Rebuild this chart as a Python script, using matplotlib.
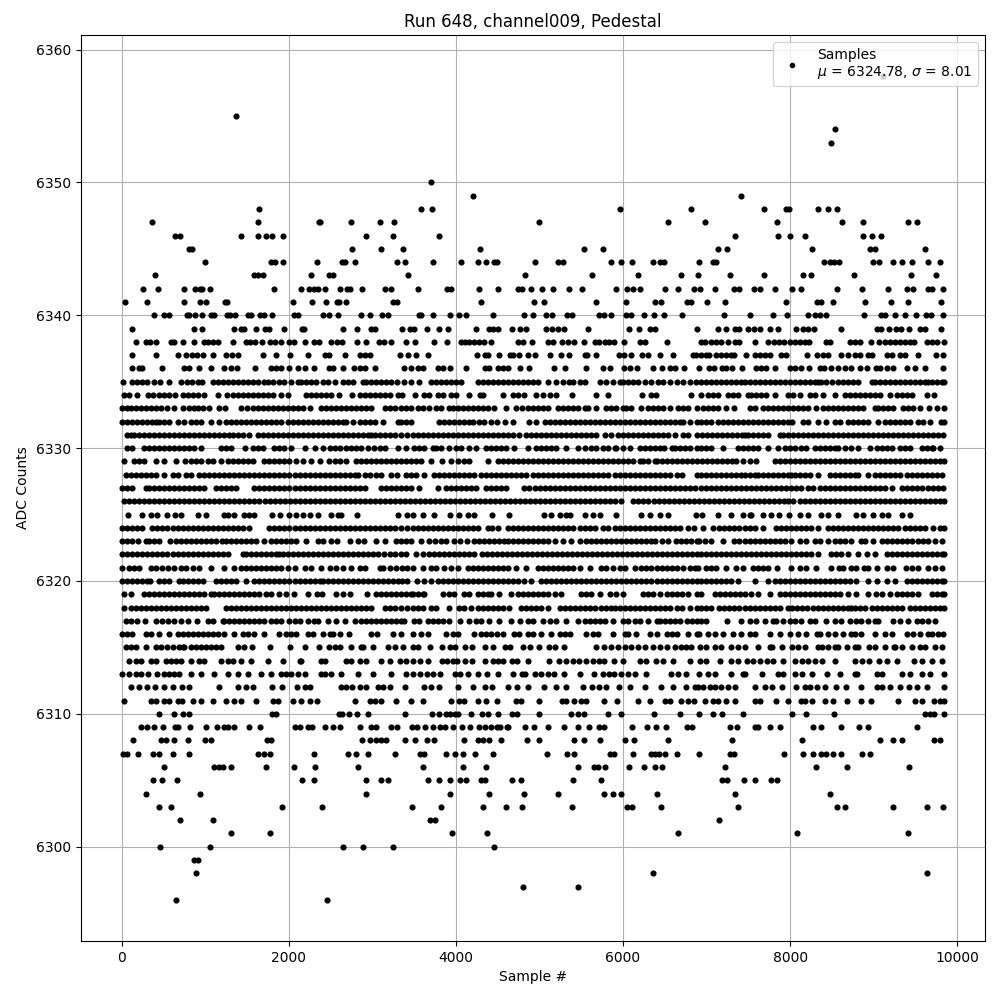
import numpy as np
import matplotlib
matplotlib.use("Agg")
import matplotlib.pyplot as plt

# Sample numbers, one list per ADC level
r6358 = [9114]
r6355 = [1372]
r6354 = [8538]
r6353 = [8490]
r6350 = [3700]
r6349 = [4204, 7410]
r6348 = [1648, 3580, 3712, 5970, 6810, 7686, 7950, 7986, 8334, 8454, 8562]
r6347 = [364, 1636, 2368, 2380, 2740, 3088, 3256, 5000, 6534, 6978, 7842, 8622, 8874, 9414, 9522]
r6346 = [640, 700, 1432, 1636, 1732, 1804, 1936, 2920, 3244, 3796, 7338, 7854, 7998, 8178, 8874, 8982, 9090]
r6345 = [808, 844, 2752, 3100, 3364, 4288, 5538, 5766, 7134, 7242, 8262, 8958, 9018, 9618]
r6344 = [1000, 1792, 1840, 1936, 2344, 2632, 2676, 2788, 3292, 3388, 3724, 4060, 4264, 4360, 4456, 4492, 4948,
         5226, 5286, 5862, 5982, 6102, 6354, 6438, 6486, 6906, 7074, 7110, 8406, 8478, 8526, 8586, 8994, 9066,
         9234, 9342, 9462, 9654, 9798]
r6343 = [400, 1588, 1636, 1696, 2272, 2476, 2524, 3424, 4828, 5634, 6174, 6690, 6894, 7278, 7686, 8154, 8250,
         8766, 9450, 9750]
r6342 = [256, 436, 748, 880, 940, 964, 1060, 1828, 2152, 2248, 2308, 2356, 2428, 2608, 2692, 2728, 2872, 3148,
         3220, 3544, 3892, 3940, 4276, 4504, 4748, 4796, 4900, 5034, 5166, 5358, 5514, 5922, 6042, 6114, 6198,
         6498, 6654, 6846, 6918, 7098, 7326, 7386, 7566, 7638, 7818, 8022, 8130, 8562, 8862, 9174, 9402, 9474,
         9654, 9702, 9834]
r6341 = [40, 304, 748, 940, 1012, 1240, 1264, 2056, 2284, 2440, 2572, 2596, 2680, 3244, 3292, 4300, 4936, 5058,
         5682, 6030, 6378, 6450, 6762, 6810, 7002, 7218, 7950, 8322, 8370, 8514, 8898, 9210, 9414, 9810]
r6340 = [388, 508, 568, 784, 808, 880, 964, 1072, 1108, 1264, 1300, 1360, 1516, 1552, 1660, 1708, 1804, 2068,
         2116, 2404, 2476, 2584, 2860, 2968, 3112, 3184, 3556, 3580, 3724, 3928, 4036, 4120, 4444, 4816, 4924,
         5082, 5154, 5334, 5394, 5718, 5778, 5862, 6030, 6098, 6246, 6366, 6486, 6702, 7206, 7518, 7794, 7962,
         8214, 8298, 8358, 8430, 8886, 9090, 9138, 9258, 9378, 9510, 9630, 9690, 9834]
r6339 = [124, 868, 964, 1348, 1432, 1468, 1612, 1720, 1768, 1948, 2164, 2188, 2644, 2812, 2980, 3028, 3352, 3448,
         3496, 3652, 3796, 3904, 4240, 4396, 4444, 4508, 4672, 4768, 4840, 5082, 5154, 5226, 5298, 5586, 6066,
         6186, 6318, 6378, 6882, 7134, 7230, 7338, 7386, 7494, 7566, 7638, 7758, 7854, 8070, 8154, 8214, 8286,
         8610, 9042, 9090, 9178, 9270, 9330, 9426, 9558, 9618, 9810]
r6338 = [172, 292, 340, 412, 592, 628, 736, 868, 988, 1036, 1096, 1156, 1336, 1492, 1540, 1600, 1684, 1780, 1840,
         1912, 2008, 2068, 2200, 2308, 2368, 2500, 2572, 2632, 2812, 2920, 3076, 3136, 3220, 3400, 3508, 3740,
         3892, 4060, 4108, 4156, 4216, 4276, 4336, 4420, 4748, 4808, 4912, 5104, 5166, 5274, 5346, 5418,
         5538, 5670, 5718, 5790, 5838, 5898, 6006, 6198, 6258, 6522, 6930, 6978, 7058, 7118, 7178, 7258, 7338,
         7386, 7578, 7734, 7806, 7866, 7926, 7998, 8058, 8118, 8178, 8226, 8430, 8478, 8718, 8778, 8838, 8970,
         9066, 9138, 9198, 9258, 9318, 9378, 9438, 9486, 9642, 9702, 9762, 9840]
r6337 = [125, 411, 671, 773, 845, 901, 977, 1097, 1253, 1325, 1397, 1697, 1845, 2013, 2229, 2429, 2477, 2669, 2849,
         2909, 2969, 3333, 3429, 3525, 3669, 4257, 4353, 4389, 4521, 4653, 4689, 4761, 4869, 4941, 5121,
         5253, 5349, 5541, 5565, 5673, 5949, 6009, 6093, 6225, 6297, 6441, 6593, 6837, 6874, 6934, 6994, 7034,
         7114, 7174, 7234, 7294, 7334, 7466, 7574, 7634, 7694, 7754, 7894, 7954, 8202, 8326, 8394, 8454, 8606,
         8694, 8774, 8834, 8934, 8974, 9154, 9214, 9314, 9374, 9534, 9746, 9834]
r6336 = [125, 209, 245, 485, 749, 809, 929, 1073, 1229, 1313, 1385, 1601, 1789, 1849, 1909, 2009, 2105, 2189, 2297,
         2477, 2525, 2645, 2777, 2849, 2909, 3029, 3381, 3465, 3549, 3609, 3789, 3849, 3933, 4125, 4353,
         4401, 4509, 4569, 4629, 4773, 4881, 5169, 5301, 5553, 5757, 5841, 6009, 6081, 6165, 6357, 6465, 6561,
         6621, 6729, 6914, 7034, 7094, 7190, 7238, 7310, 7426, 7586, 7646, 7706, 7814, 7994, 8054, 8126, 8222,
         8354, 8402, 8494, 8574, 8654, 8734, 8834, 8914, 9026, 9074, 9154, 9234, 9394, 9494, 9614, 9830]
r6335 = [17, 129, 189, 249, 309, 389, 461, 569, 713, 781, 837, 909, 957, 1089, 1149, 1209, 1269, 1329, 1389, 1449,
         1509, 1569, 1629, 1709, 1749, 1809, 1889, 1949, 2029, 2109, 2141, 2209, 2269, 2329, 2409, 2469,
         2549, 2649, 2709, 2769, 2889, 2921, 2989, 3049, 3109, 3169, 3229, 3301, 3381, 3461, 3561, 3701,
         3761, 3821, 3881, 3941, 4001, 4061, 4261, 4321, 4381, 4441, 4501, 4561, 4621, 4681, 4741, 4801, 4861,
         4921, 4981, 5101, 5201, 5281, 5351, 5401, 5481, 5541, 5721, 5801, 5881, 5961, 6001, 6061, 6121, 6181,
         6261, 6341, 6421, 6481, 6561, 6641, 6721, 6801, 6874, 6934, 6994, 7054, 7114, 7174, 7234, 7294,
         7354, 7414, 7454, 7514, 7574, 7634, 7694, 7754, 7814, 7874, 7934, 7994, 8054, 8114, 8174, 8234, 8294,
         8334, 8374, 8434, 8504, 8574, 8634, 8694, 8754, 8814, 8974, 9014, 9074, 9134, 9194, 9254, 9314, 9374,
         9434, 9494, 9554, 9614, 9654, 9694, 9754, 9814, 9840]
r6334 = [30, 90, 180, 310, 370, 450, 510, 570, 640, 730, 790, 850, 910, 990, 1149, 1261, 1330, 1390, 1450, 1510,
         1570, 1630, 1690, 1750, 1810, 1910, 1989, 2210, 2270, 2330, 2390, 2450, 2510, 2597, 2757, 2850, 2910, 2970,
         3030, 3090, 3150, 3210, 3310, 3353, 3513, 3621, 3681, 3781, 3841, 3941, 4005, 4161, 4285, 4320, 4569, 4681,
         4741, 4821, 4961, 5041, 5121, 5193, 5393, 5673, 5821, 6225, 6340, 6390, 6814, 6934, 7014, 7074, 7134, 7254,
         7314, 7374, 7494, 7534, 7594, 7654, 7714, 7814, 7974, 8034, 8114, 8234, 8294, 8394, 8534, 8654, 8714,
         8774, 8834, 8894, 8954, 9014, 9074, 9194, 9274, 9334, 9394, 9454, 9634, 9722]
r6333 = [9, 61, 117, 169, 229, 289, 349, 409, 469, 549, 629, 729, 809, 869, 909, 969, 1049, 1169, 1237, 1429, 1499,
         1569, 1629, 1689, 1749, 1809, 1869, 1929, 1989, 2049, 2109, 2169, 2249, 2389, 2449, 2509, 2569, 2629,
         2689, 2749, 2809, 2869, 2929, 2989, 3149, 3209, 3269, 3349, 3401, 3461, 3541, 3601, 3681, 3761, 3821,
         3921, 3961, 4021, 4081, 4141, 4201, 4261, 4321, 4381, 4461, 4605, 4721, 4791, 4861, 4921, 4981, 5041,
         5101, 5221, 5281, 5341, 5401, 5461, 5541, 5581, 5681, 5801, 5861, 5921, 6001, 6041, 6101, 6221, 6301,
         6361, 6421, 6481, 6561, 6661, 6721, 6781, 6881, 6954, 7014, 7074, 7134, 7234, 7334, 7514, 7574, 7674,
         7734, 7794, 7854, 7914, 7974, 8034, 8094, 8154, 8214, 8314, 8394, 8454, 8514, 8574, 8634, 8694, 8754,
         8814, 8874, 9014, 9054, 9114, 9174, 9234, 9354, 9414, 9474, 9554, 9662, 9758, 9840]
r6332 = [0, 60, 120, 180, 240, 300, 360, 409, 449, 509, 569, 669, 749, 829, 889, 949, 1069, 1169, 1249, 1309, 1369,
         1429, 1489, 1549, 1609, 1669, 1729, 1789, 1849, 1909, 1989, 2049, 2109, 2169, 2229, 2289, 2349, 2409,
         2469, 2529, 2589, 2649, 2689, 2769, 2849, 2909, 2969, 3029, 3129, 3309, 3349, 3401, 3461, 3801, 3861,
         3921, 3981, 4041, 4101, 4161, 4201, 4273, 4333, 4421, 4497, 4593, 4689, 4881, 4961, 5061, 5121, 5181,
         5241, 5301, 5361, 5421, 5481, 5541, 5601, 5661, 5721, 5781, 5841, 5901, 5961, 6021, 6081, 6141, 6201,
         6261, 6321, 6381, 6441, 6501, 6561, 6621, 6681, 6721, 6801, 6881, 6934, 6994, 7054, 7134, 7194, 7254,
         7314, 7374, 7434, 7494, 7554, 7614, 7674, 7734, 7794, 7854, 7914, 7974, 8022, 8154, 8214, 8334, 8434,
         8534, 8594, 8694, 8754, 8814, 8874, 8934, 9054, 9134, 9194, 9254, 9314, 9374, 9434, 9534, 9594, 9674,
         9806, 9840]
r6331 = [69, 109, 149, 209, 269, 329, 389, 449, 509, 569, 629, 689, 749, 809, 869, 929, 989, 1049, 1109, 1169, 1229,
         1289, 1329, 1389, 1449, 1529, 1629, 1689, 1749, 1809, 1869, 1929, 1989, 2049, 2109, 2169, 2229, 2289,
         2349, 2409, 2469, 2529, 2589, 2649, 2709, 2769, 2829, 2889, 2949, 2989, 3029, 3089, 3149, 3209, 3269,
         3349, 3421, 3481, 3541, 3601, 3661, 3721, 3781, 3841, 3901, 3961, 4021, 4081, 4141, 4201, 4261, 4321,
         4381, 4441, 4501, 4561, 4621, 4681, 4761, 4841, 4901, 4961, 5021, 5081, 5141, 5201, 5261, 5321, 5381,
         5441, 5501, 5561, 5621, 5681, 5781, 5861, 5941, 6001, 6061, 6121, 6181, 6241, 6301, 6361, 6421, 6481,
         6541, 6621, 6721, 6781, 6881, 6941, 7001, 7061, 7121, 7181, 7241, 7301, 7361, 7421, 7454, 7494, 7554,
         7614, 7674, 7734, 7874, 7914, 7974, 8034, 8094, 8154, 8214, 8274, 8334, 8394, 8454, 8514, 8574, 8634,
         8694, 8754, 8814, 8874, 8934, 8994, 9054, 9114, 9174, 9234, 9294, 9354, 9414, 9474, 9534, 9594, 9654,
         9714, 9774, 9834]
r6330 = [69, 129, 269, 329, 389, 449, 509, 569, 629, 689, 749, 809, 869, 949, 1189, 1249, 1309, 1479, 1569, 1629,
         1689, 1829, 1889, 1949, 2029, 2189, 2309, 2409, 2489, 2549, 2609, 2689, 2749, 2809, 2869, 2949, 3019, 3089,
         3149, 3309, 3401, 3501, 3561, 3621, 3721, 3761, 3821, 3921, 4001, 4061, 4161, 4241, 4361, 4421, 4481,
         4541, 4601, 4701, 4861, 4961, 5021, 5081, 5141, 5201, 5321, 5461, 5541, 5621, 5681, 5761, 5821, 5901,
         5921, 6001, 6081, 6201, 6261, 6321, 6381, 6441, 6489, 6581, 6621, 6681, 6741, 6801, 6881, 6934, 6994,
         7054, 7194, 7374, 7434, 7494, 7554, 7614, 7734, 7854, 7934, 7994, 8054, 8134, 8194, 8294, 8354, 8414,
         8474, 8534, 8574, 8654, 8734, 8814, 8954, 9034, 9094, 9154, 9214, 9314, 9374, 9434, 9574, 9634, 9694,
         9714, 9794]
r6329 = [29, 149, 209, 269, 409, 509, 649, 759, 829, 889, 949, 1029, 1089, 1189, 1269, 1329, 1389, 1449, 1509, 1569,
         1709, 1769, 1829, 1889, 1949, 2009, 2089, 2169, 2269, 2369, 2479, 2549, 2609, 2689, 2809, 2869, 2929, 2989,
         3049, 3109, 3169, 3229, 3289, 3349, 3401, 3461, 3521, 3581, 3701, 3831, 3941, 4031, 4101, 4161, 4381,
         4501, 4561, 4621, 4681, 4741, 4801, 4861, 4921, 4981, 5041, 5101, 5161, 5221, 5281, 5341, 5401, 5461,
         5521, 5581, 5641, 5701, 5761, 5821, 5881, 5941, 6001, 6061, 6121, 6201, 6241, 6301, 6381, 6401, 6461,
         6521, 6581, 6641, 6701, 6761, 6821, 6881, 6941, 7001, 7061, 7121, 7181, 7241, 7301, 7354, 7434, 7514,
         7594, 7814, 7874, 7934, 7994, 8054, 8114, 8174, 8234, 8294, 8354, 8414, 8474, 8534, 8594, 8654, 8714,
         8774, 8834, 8894, 8954, 9014, 9074, 9134, 9194, 9254, 9314, 9374, 9434, 9494, 9554, 9614, 9674, 9734,
         9794, 9840]
r6328 = [49, 109, 169, 229, 289, 349, 409, 509, 609, 669, 769, 829, 929, 989, 1049, 1109, 1169, 1229, 1289, 1349, 1409,
         1469, 1529, 1589, 1649, 1709, 1769, 1829, 1889, 1949, 2009, 2069, 2129, 2189, 2249, 2309, 2369, 2429, 2489,
         2549, 2609, 2669, 2729, 2789, 2829, 2909, 2969, 3049, 3109, 3229, 3301, 3401, 3461, 3521, 3621, 3741,
         3801, 3861, 3921, 3981, 4041, 4101, 4161, 4221, 4301, 4361, 4421, 4481, 4541, 4601, 4661, 4721, 4781,
         4841, 4921, 4981, 5041, 5101, 5161, 5221, 5281, 5341, 5401, 5461, 5521, 5581, 5641, 5701, 5761, 5821,
         5901, 5961, 6021, 6081, 6141, 6201, 6261, 6321, 6381, 6441, 6501, 6561, 6641, 6701, 6881, 6934, 6994,
         7054, 7114, 7174, 7234, 7294, 7354, 7414, 7454, 7514, 7574, 7614, 7674, 7734, 7794, 7854, 7914, 7974, 8014,
         8054, 8114, 8174, 8234, 8334, 8474, 8534, 8594, 8654, 8714, 8774, 8814, 8934, 9014, 9074, 9134, 9194,
         9254, 9314, 9394, 9454, 9514, 9574, 9634, 9694, 9754, 9814]
r6327 = [9, 69, 129, 289, 329, 389, 449, 509, 569, 629, 689, 749, 809, 869, 929, 989, 1129, 1189, 1249, 1309, 1369, 1589,
         1649, 1709, 1769, 1829, 1889, 1949, 2009, 2069, 2129, 2189, 2249, 2309, 2369, 2429, 2489, 2549, 2609, 2669,
         2729, 2789, 2849, 2909, 3109, 3169, 3229, 3289, 3349, 3401, 3461, 3561, 3781, 3881, 3941, 4001, 4061, 4121,
         4181, 4241, 4361, 4421, 4481, 4541, 4601, 4821, 4881, 4941, 5001, 5061, 5121, 5181, 5241, 5301, 5361, 5421,
         5481, 5541, 5601, 5661, 5721, 5781, 5841, 5901, 5961, 6021, 6081, 6141, 6201, 6261, 6321, 6381, 6441, 6501,
         6561, 6621, 6681, 6741, 6801, 6861, 6934, 6994, 7054, 7114, 7174, 7234, 7294, 7354, 7414, 7474, 7534, 7594,
         7654, 7714, 7774, 7834, 7894, 7954, 8014, 8074, 8134, 8214, 8274, 8354, 8414, 8474, 8534, 8594, 8654, 8714,
         8774, 8834, 8894, 8954, 9014, 9074, 9134, 9214, 9344, 9404, 9464, 9524, 9584, 9644, 9704, 9764, 9834]
r6326 = [30, 90, 150, 210, 270, 330, 390, 450, 510, 570, 630, 690, 750, 810, 870, 930, 990, 1050, 1110, 1170, 1230,
         1290, 1350, 1410, 1470, 1530, 1590, 1650, 1710, 1770, 1830, 1890, 1950, 2010, 2070, 2130, 2190, 2250, 2310,
         2370, 2430, 2490, 2550, 2610, 2670, 2730, 2790, 2850, 2910, 2970, 3030, 3090, 3150, 3210, 3270, 3330, 3390,
         3450, 3510, 3570, 3630, 3690, 3750, 3810, 3870, 3930, 3990, 4050, 4110, 4170, 4230, 4290, 4350, 4410, 4470,
         4530, 4590, 4650, 4710, 4770, 4830, 4890, 4950, 5010, 5070, 5130, 5190, 5250, 5310, 5370, 5430, 5490, 5550,
         5610, 5670, 5730, 5790, 5850, 5910, 5980, 6125, 6185, 6245, 6305, 6365, 6425, 6485, 6545, 6605, 6665, 6725,
         6785, 6845, 6905, 6965, 7025, 7085, 7145, 7205, 7265, 7325, 7385, 7445, 7505, 7565, 7625, 7685, 7745, 7805,
         7865, 7925, 7975, 8034, 8115, 8175, 8235, 8295, 8355, 8415, 8475, 8535, 8595, 8655, 8715, 8775, 8835, 8895,
         8955, 9015, 9075, 9135, 9195, 9255, 9315, 9375, 9435, 9495, 9555, 9615, 9675, 9735, 9795, 9840]
r6325 = [77, 245, 349, 429, 541, 637, 709, 909, 1013, 1221, 1269, 1349, 1461, 1529, 1589, 1797, 1901, 2009, 2089, 2169,
         2249, 2349, 2509, 2589, 2629, 2821, 3313, 3421, 3481, 3601, 3741, 3933, 4041, 4141, 4221, 4429, 4633,
         5049, 5133, 5241, 5321, 5361, 5541, 5641, 5721, 5913, 6213, 6321, 6441, 6541, 6874, 6946, 7134, 7294,
         7434, 7514, 7534, 7670, 7774, 7862, 7982, 8114, 8214, 8374, 8454, 8574, 8794, 8874, 8994, 9094, 9174, 9334,
         9434]
r6324 = [9, 69, 129, 189, 239, 369, 429, 489, 549, 609, 669, 729, 789, 849, 909, 969, 1029, 1089, 1149, 1209, 1269,
         1329, 1389, 1449, 1529, 1769, 1829, 1889, 1949, 2009, 2069, 2129, 2189, 2249, 2309, 2369, 2429, 2489, 2549,
         2609, 2669, 2729, 2789, 2849, 2909, 2969, 3029, 3089, 3149, 3209, 3269, 3349, 3421, 3481, 3541, 3601, 3661,
         3721, 3781, 3841, 3901, 3961, 4021, 4081, 4141, 4201, 4261, 4381, 4431, 4501, 4621, 4681, 4741, 4801, 4861,
         4921, 4981, 5041, 5101, 5161, 5221, 5281, 5341, 5401, 5481, 5541, 5601, 5661, 5761, 5821, 5901, 5961,
         6021, 6081, 6141, 6201, 6261, 6321, 6381, 6441, 6501, 6561, 6621, 6681, 6781, 6854, 6954, 7074, 7154,
         7214, 7274, 7334, 7394, 7454, 7514, 7574, 7674, 7834, 7894, 7954, 8014, 8074, 8134, 8194, 8254, 8334,
         8454, 8514, 8574, 8634, 8694, 8754, 8814, 8874, 8934, 8994, 9054, 9114, 9174, 9234, 9294, 9374, 9434,
         9494, 9554, 9614, 9714, 9794, 9840]
r6323 = [0, 69, 129, 199, 289, 329, 389, 449, 579, 649, 709, 769, 829, 889, 949, 1009, 1069, 1129, 1197, 1249, 1309, 1369,
         1429, 1489, 1549, 1609, 1709, 1789, 1849, 1909, 1969, 2029, 2089, 2209, 2349, 2409, 2511, 2581, 2731, 2829,
         2901, 3049, 3149, 3289, 3341, 3401, 3461, 3581, 3681, 3753, 3821, 3881, 3981, 4049, 4133, 4221, 4281, 4341,
         4401, 4461, 4521, 4581, 4621, 4681, 4741, 4801, 4861, 4921, 4981, 5041, 5101, 5181, 5281, 5381, 5481,
         5561, 5621, 5681, 5741, 5801, 5861, 5921, 5981, 6041, 6101, 6161, 6221, 6281, 6341, 6381, 6461, 6541,
         6631, 6691, 6751, 6811, 6881, 6914, 6984, 7054, 7194, 7334, 7394, 7454, 7514, 7574, 7634, 7694, 7754,
         7814, 7874, 7934, 8014, 8114, 8194, 8294, 8354, 8454, 8534, 8594, 8654, 8734, 8854, 8894, 8994, 9094,
         9154, 9214, 9274, 9334, 9394, 9464, 9534, 9594, 9654, 9734, 9814]
r6322 = [9, 69, 129, 189, 249, 309, 369, 429, 489, 549, 609, 669, 729, 789, 849, 909, 969, 1029, 1089, 1149, 1209, 1269,
         1449, 1489, 1549, 1609, 1669, 1729, 1789, 1849, 1889, 1929, 1989, 2049, 2109, 2169, 2229, 2289, 2349, 2409,
         2469, 2529, 2589, 2649, 2709, 2769, 2829, 2889, 2949, 3009, 3069, 3139, 3211, 3271, 3349, 3401, 3521, 3601,
         3681, 3741, 3801, 3861, 3921, 3981, 4041, 4101, 4161, 4221, 4311, 4371, 4431, 4491, 4551, 4611, 4671, 4731,
         4791, 4851, 4911, 4971, 5031, 5091, 5151, 5211, 5271, 5331, 5391, 5451, 5511, 5571, 5631, 5691, 5751, 5811,
         5871, 5931, 5991, 6051, 6111, 6171, 6231, 6291, 6351, 6411, 6471, 6531, 6591, 6651, 6711, 6771, 6831, 6881,
         6934, 6994, 7054, 7114, 7174, 7234, 7294, 7354, 7414, 7474, 7534, 7594, 7654, 7714, 7774, 7834, 7894, 7954,
         8014, 8074, 8134, 8194, 8254, 8334, 8494, 8554, 8614, 8694, 8814, 8914, 9014, 9154, 9214, 9274, 9334, 9394,
         9454, 9514, 9574, 9634, 9694, 9754, 9814, 9840]
r6321 = [9, 89, 149, 209, 349, 409, 489, 559, 629, 709, 769, 849, 929, 1069, 1229, 1349, 1429, 1489, 1549, 1609, 1669,
         1729, 1789, 1849, 1909, 1989, 2069, 2189, 2269, 2389, 2489, 2569, 2649, 2749, 2849, 2909, 3089, 3129, 3209,
         3281, 3361, 3421, 3481, 3601, 3701, 3761, 3861, 3941, 4021, 4141, 4201, 4261, 4321, 4381, 4441, 4501,
         4561, 4621, 4721, 4841, 4981, 5041, 5101, 5161, 5221, 5281, 5341, 5401, 5481, 5611, 5741, 5801, 5881, 5961,
         6021, 6141, 6221, 6281, 6341, 6401, 6461, 6521, 6581, 6641, 6721, 6801, 6861, 6894, 6994, 7054, 7114,
         7234, 7354, 7434, 7554, 7614, 7674, 7734, 7844, 8014, 8114, 8194, 8314, 8494, 8584, 8634, 8724, 8794, 8884,
         8934, 9034, 9154, 9234, 9384, 9454, 9534, 9654, 9734, 9814]
r6320 = [0, 59, 119, 179, 239, 299, 339, 449, 509, 569, 689, 729, 789, 849, 909, 969, 1129, 1189, 1249, 1309, 1369, 1489,
         1589, 1649, 1709, 1769, 1829, 1889, 1949, 2009, 2069, 2129, 2189, 2249, 2309, 2369, 2409, 2469, 2529, 2589,
         2649, 2709, 2769, 2829, 2889, 2949, 3009, 3069, 3129, 3189, 3249, 3309, 3361, 3421, 3529, 3621, 3701, 3781,
         3841, 3901, 3961, 4021, 4081, 4141, 4201, 4261, 4321, 4381, 4441, 4501, 4561, 4621, 4681, 4741, 4821, 4901,
         5021, 5081, 5141, 5201, 5261, 5321, 5381, 5441, 5501, 5561, 5621, 5681, 5741, 5801, 5861, 5921, 5981, 6041,
         6101, 6161, 6221, 6281, 6341, 6401, 6461, 6521, 6581, 6641, 6701, 6761, 6821, 6881, 6934, 6994, 7054, 7114,
         7174, 7234, 7294, 7374, 7574, 7734, 7814, 7874, 7934, 7994, 8054, 8114, 8174, 8234, 8294, 8354, 8414, 8474,
         8534, 8594, 8654, 8714, 8794, 8934, 9034, 9154, 9254, 9394, 9454, 9514, 9574, 9634, 9694, 9754, 9814, 9840]
r6319 = [29, 109, 269, 329, 389, 449, 509, 569, 629, 689, 749, 809, 869, 929, 989, 1069, 1109, 1169, 1229, 1289, 1349,
         1409, 1469, 1529, 1589, 1649, 1729, 1789, 1889, 1969, 2061, 2229, 2339, 2399, 2569, 2649, 2739, 2939, 3039, 3109,
         3169, 3229, 3289, 3349, 3401, 3461, 3481, 3541, 3601, 3621, 3841, 3921, 3981, 4101, 4161, 4261, 4321, 4381,
         4421, 4521, 4661, 4741, 4801, 4861, 4921, 4981, 5041, 5101, 5181, 5261, 5501, 5561, 5621, 5721, 5841, 5921,
         6001, 6241, 6301, 6361, 6441, 6521, 6581, 6641, 6701, 6781, 6881, 6934, 7104, 7164, 7224, 7284, 7344, 7404,
         7464, 7534, 7614, 7754, 7874, 7934, 7994, 8054, 8114, 8174, 8234, 8294, 8354, 8414, 8474, 8534, 8594, 8694,
         8794, 8934, 9024, 9094, 9194, 9274, 9334, 9394, 9454, 9534, 9694, 9754, 9814, 9840]
r6318 = [29, 109, 169, 229, 289, 349, 409, 469, 529, 589, 649, 709, 769, 829, 889, 949, 1009, 1249, 1309, 1369, 1429,
         1489, 1549, 1609, 1669, 1729, 1789, 1849, 1909, 1969, 2029, 2089, 2149, 2209, 2269, 2329, 2389, 2449,
         2509, 2569, 2629, 2689, 2749, 2809, 2869, 2929, 2989, 3149, 3209, 3269, 3349, 3421, 3481, 3541, 3601, 3701,
         3761, 3921, 4041, 4101, 4181, 4261, 4321, 4381, 4441, 4501, 4561, 4631, 4781, 4841, 4901, 4961, 5021, 5101,
         5241, 5301, 5361, 5421, 5481, 5541, 5601, 5661, 5731, 5801, 5861, 5901, 5961, 6021, 6081, 6141, 6201, 6261,
         6321, 6381, 6441, 6501, 6561, 6641, 6701, 6801, 6881, 6934, 6994, 7054, 7154, 7214, 7274, 7334, 7394, 7454,
         7514, 7574, 7634, 7694, 7754, 7814, 7874, 7974, 8024, 8084, 8144, 8204, 8274, 8334, 8394, 8454, 8514, 8574,
         8634, 8694, 8734, 8774, 8834, 8894, 8974, 9034, 9094, 9154, 9214, 9274, 9334, 9434, 9494, 9554, 9614, 9674,
         9734, 9794, 9840]
r6317 = [49, 109, 179, 279, 409, 489, 559, 629, 709, 789, 899, 1029, 1089, 1209, 1229, 1289, 1349, 1409, 1469, 1529,
         1589, 1649, 1709, 1789, 1849, 1909, 1999, 2069, 2129, 2229, 2299, 2349, 2469, 2569, 2669, 2789, 2869, 2929,
         2989, 3049, 3109, 3169, 3229, 3289, 3349, 3381, 3501, 3561, 3661, 3721, 3781, 3841, 3921, 4049, 4161, 4241,
         4301, 4401, 4521, 4661, 4769, 4861, 4921, 5041, 5121, 5201, 5321, 5461, 5541, 5601, 5661, 5721, 5781, 5881,
         6001, 6061, 6141, 6201, 6301, 6401, 6441, 6501, 6561, 6621, 6681, 6761, 6821, 6881, 6934, 6994, 7246, 7414,
         7514, 7594, 7694, 7794, 7834, 7914, 7994, 8054, 8134, 8234, 8294, 8434, 8534, 8614, 8714, 8794, 8854, 8934,
         9014, 9054, 9234, 9314, 9414, 9514, 9574, 9654, 9734]
r6316 = [9, 69, 129, 289, 349, 449, 569, 669, 729, 789, 849, 909, 969, 1029, 1089, 1149, 1229, 1349, 1449, 1509, 1589,
         1709, 1889, 1969, 2029, 2089, 2229, 2289, 2409, 2489, 2529, 2609, 2719, 2989, 3059, 3249, 3341, 3481, 3581,
         3661, 3881, 3961, 4021, 4221, 4301, 4361, 4421, 4491, 4561, 4701, 4761, 4861, 4921, 5021, 5141, 5241, 5301,
         5361, 5561, 5641, 5701, 5881, 6021, 6061, 6161, 6321, 6401, 6521, 6581, 6641, 6781, 6881, 6914, 7014, 7104,
         7202, 7314, 7414, 7514, 7574, 7754, 7874, 7994, 8094, 8184, 8324, 8354, 8454, 8534, 8634, 8734, 8774, 8854,
         9014, 9134, 9214, 9394, 9474, 9554, 9654, 9694, 9764, 9834]
r6315 = [49, 109, 169, 289, 409, 469, 549, 609, 689, 729, 749, 829, 889, 949, 1009, 1069, 1129, 1189, 1389, 1469, 1559,
         1777, 2017, 2197, 2365, 2477, 2549, 2609, 2749, 2869, 2889, 3009, 3189, 3277, 3365, 3489, 3549, 3689, 3829,
         3929, 3989, 4109, 4189, 4349, 4449, 4589, 4649, 4809, 4889, 4989, 5109, 5189, 5298, 5678, 5778, 5858, 5938,
         6018, 6098, 6178, 6258, 6358, 6438, 6522, 6618, 6698, 6758, 6818, 6918, 6998, 7098, 7178, 7298, 7378, 7458,
         7618, 7758, 7778, 7898, 8018, 8098, 8178, 8338, 8378, 8458, 8538, 8578, 8678, 8778, 8818, 8938, 9018, 9138,
         9238, 9258, 9338, 9458, 9558, 9618, 9738, 9818]
r6314 = [89, 169, 229, 349, 409, 529, 589, 649, 709, 829, 929, 989, 1189, 1269, 1329, 1429, 1549, 1749, 1929, 2129, 2149,
         2389, 2429, 2689, 2749, 2849, 2929, 3109, 3209, 3329, 3409, 3489, 3569, 3669, 3829, 3889, 3969, 4009, 4109,
         4189, 4349, 4449, 4509, 4569, 4669, 4729, 4869, 5109, 5238, 5318, 5398, 5478, 5558, 5638, 5718, 5778, 5898,
         5998, 6198, 6278, 6398, 6478, 6598, 6798, 6918, 6998, 7158, 7298, 7378, 7478, 7558, 7638, 7718, 7798, 7918,
         8058, 8138, 8218, 8298, 8378, 8538, 8778, 8858, 8938, 9058, 9158, 9278, 9478, 9578, 9698, 9818]
r6313 = [9, 89, 169, 229, 319, 429, 509, 569, 629, 689, 829, 949, 1109, 1269, 1389, 1509, 1669, 1789, 1909, 1969, 2029,
         2109, 2189, 2389, 2429, 2509, 2629, 2829, 3009, 3229, 3409, 3489, 3569, 3649, 3729, 3809, 3989, 4049, 4149,
         4269, 4369, 4509, 4689, 4789, 4829, 4949, 5018, 5098, 5178, 5298, 5490, 5658, 5758, 5838, 5898, 5978, 6058,
         6138, 6278, 6578, 6658, 6758, 6910, 7018, 7098, 7298, 7438, 7458, 7658, 7858, 7918, 8058, 8138, 8258, 8442,
         8598, 8778, 8798, 9038, 9098, 9338, 9438, 9578, 9678, 9840]
r6312 = [109, 209, 305, 401, 509, 609, 721, 809, 1169, 1389, 1489, 1577, 1805, 1925, 2097, 2197, 2257, 2629, 2689, 2753,
         2849, 2929, 3069, 3129, 3209, 3389, 3617, 3701, 3797, 4029, 4209, 4349, 4429, 4629, 4733, 4869, 5058, 5202,
         5322, 5526, 5634, 5718, 5802, 5958, 6078, 6258, 6458, 6598, 6758, 6858, 6898, 6958, 7038, 7098, 7178, 7258,
         7338, 7578, 7698, 7778, 7898, 8070, 8178, 8238, 8322, 8418, 8550, 8670, 8850, 9038, 9098, 9198, 9318, 9426,
         9518, 9638, 9840]
r6311 = [29, 349, 409, 509, 569, 677, 725, 849, 949, 1097, 1249, 1349, 1429, 1613, 1817, 1869, 2045, 2149, 2249, 2333,
         2789, 2969, 3029, 3101, 3289, 3469, 3609, 3941, 4037, 4097, 4265, 4361, 4489, 4721, 4781, 4997, 5266,
         5318, 5418, 5498, 5558, 5778, 5934, 6178, 6318, 6498, 6558, 6698, 6778, 6850, 6978, 7078, 7138, 7238, 7338,
         7578, 7638, 7830, 7978, 8130, 8178, 8258, 8418, 8518, 8682, 8850, 8970, 9294, 9498, 9582, 9718, 9798, 9838]
r6310 = [449, 629, 737, 809, 1805, 1853, 2597, 2637, 2717, 2821, 2945, 3389, 3713, 3797, 3881, 3929, 3989, 4029, 4181,
         4309, 4389, 4505, 4673, 4729, 4989, 5382, 5466, 5538, 5826, 5982, 6366, 6678, 6906, 7074, 7182, 7434, 8022,
         8190, 8526, 9618, 9678, 9726, 9838]
r6309 = [229, 309, 389, 497, 641, 669, 813, 1013, 1145, 1229, 1277, 1349, 1529, 1661, 2069, 2129, 2225, 2273, 2429, 2529,
         2609, 2849, 2981, 3049, 3221, 3293, 3477, 3529, 3629, 3729, 3809, 3869, 3969, 4077, 4173, 4273, 4349, 4421,
         4489, 4529, 4609, 4629, 4829, 4929, 5106, 5298, 5466, 5588, 5718, 5768, 6102, 6282, 6398, 6510, 6762, 6822,
         7278, 7370, 7578, 7618, 7758, 7878, 8274, 8370, 8606, 8826, 8934, 9522]
r6308 = [137, 473, 533, 629, 789, 997, 1073, 1745, 1793, 2873, 2969, 3041, 3101, 3161, 3389, 3509, 3649, 3737, 4097, 4269,
         4329, 4397, 4541, 4853, 4997, 5418, 5538, 5730, 6018, 6126, 6534, 7302, 8142, 9078, 9234, 9342, 9726, 9798]
r6307 = [21, 65, 197, 377, 449, 617, 809, 1637, 1709, 1781, 2297, 2705, 2801, 2945, 3269, 3569, 3617, 3877, 3985, 4085,
         4229, 4449, 5094, 5334, 5418, 5850, 5898, 6114, 6334, 6382, 6432, 6498, 6642, 6906, 7278, 7326, 7926,
         8154, 8274, 8374, 8434, 8514, 8614, 8862, 8958]
r6306 = [509, 1109, 1169, 1217, 1313, 1733, 2057, 2309, 2825, 3605, 4085, 4361, 5466, 5658, 5706, 5790, 6066, 6246, 6378,
         6462, 7218, 8310, 8682, 9426]
r6305 = [377, 485, 665, 2153, 2297, 2921, 3101, 3185, 3665, 3797, 3929, 4049, 4121, 4301, 4349, 4673, 4781, 5406, 5742,
         7182, 7242, 7446, 7578, 7770, 7842]
r6304 = [293, 941, 2921, 3929, 4397, 4817, 5226, 5778, 5886, 5982, 6402, 7338, 8478]
r6303 = [449, 593, 1925, 2393, 3473, 3821, 4325, 4601, 4793, 5394, 6042, 6102, 6450, 7374, 8562, 8658, 9234, 9642, 9834]
r6302 = [701, 1097, 3689, 3749, 7146]
r6301 = [1313, 1781, 3953, 4373, 6654, 8082, 9414]
r6300 = [461, 1061, 2645, 2885, 3245, 4457]
r6299 = [869, 917]
r6298 = [893, 6354, 9642]
r6297 = [4805, 5466]
r6296 = [653, 2453]

levels = [6358, 6355, 6354, 6353, 6350, 6349, 6348, 6347, 6346, 6345, 6344, 6343, 6342, 6341, 6340, 6339, 6338,
          6337, 6336, 6335, 6334, 6333, 6332, 6331, 6330, 6329, 6328, 6327, 6326, 6325, 6324, 6323, 6322, 6321,
          6320, 6319, 6318, 6317, 6316, 6315, 6314, 6313, 6312, 6311, 6310, 6309, 6308, 6307, 6306, 6305, 6304,
          6303, 6302, 6301, 6300, 6299, 6298, 6297, 6296]
rows = [r6358, r6355, r6354, r6353, r6350, r6349, r6348, r6347, r6346, r6345, r6344, r6343, r6342, r6341, r6340,
        r6339, r6338, r6337, r6336, r6335, r6334, r6333, r6332, r6331, r6330, r6329, r6328, r6327, r6326, r6325,
        r6324, r6323, r6322, r6321, r6320, r6319, r6318, r6317, r6316, r6315, r6314, r6313, r6312, r6311, r6310,
        r6309, r6308, r6307, r6306, r6305, r6304, r6303, r6302, r6301, r6300, r6299, r6298, r6297, r6296]

xs = np.concatenate([np.array(r, dtype=float) for r in rows])
ys = np.concatenate([np.full(len(r), lv, dtype=float) for r, lv in zip(rows, levels)])

plt.figure(figsize=(10, 10), dpi=100)
plt.plot(xs, ys, 'k.', ms=6.8, label='Samples\n$\\mu$ = 6324.78, $\\sigma$ = 8.01')
plt.title('Run 648, channel009, Pedestal')
plt.xlabel('Sample #')
plt.ylabel('ADC Counts')
plt.grid(True)
plt.legend(loc='upper right', markerscale=0.88)
plt.subplots_adjust(left=0.0805, right=0.985, top=0.965, bottom=0.059)
plt.savefig('out.png', dpi=100)
